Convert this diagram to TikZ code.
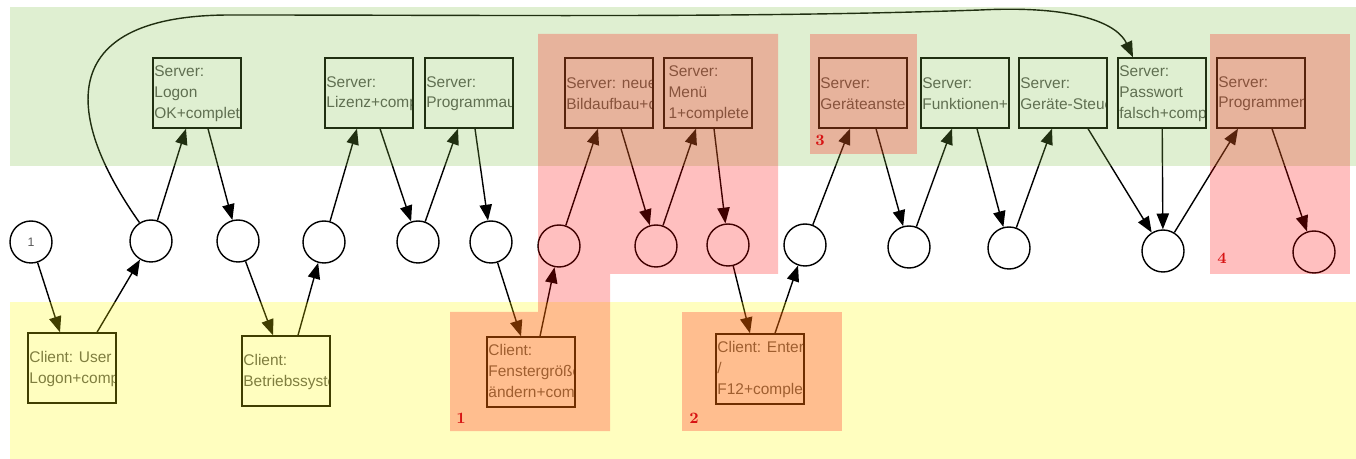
\documentclass[tikz,border=0pt]{standalone}
\usepackage{fontspec}
\newfontfamily\boxfont{Liberation Sans}
\usetikzlibrary{arrows.meta}
\definecolor{bandgreen}{RGB}{128,190,70}
\definecolor{bandyellow}{RGB}{255,250,0}
\definecolor{markred}{RGB}{255,0,0}
\definecolor{boxgray}{RGB}{85,85,85}
\definecolor{labelred}{RGB}{215,20,20}

\begin{document}
\begin{tikzpicture}[x=0.02cm,y=-0.02cm,
    box/.style={draw,line width=0.8pt,minimum width=1.76cm,minimum height=1.4cm,inner sep=0pt,
      path picture={\node[draw=none,anchor=north west,inner xsep=0.4pt,inner ysep=2.2pt,align=left,
        font=\boxfont\fontsize{8.8}{11.9}\selectfont,text=boxgray] at (path picture bounding box.north west) {#1};}},
    waypt/.style={draw,circle,line width=0.8pt,minimum size=0.84cm,inner sep=0pt,font=\boxfont\scriptsize,text=boxgray},
    flow/.style={-{Triangle[length=9pt,width=7pt]},line width=0.8pt},
    band/.style={fill opacity=0.25},
    num/.style={font=\bfseries\small,text=labelred}]
    \useasboundingbox (0,0) rectangle (1356,459);
    % server side
    \node[box={Server:\\Logon\\OK+complete}] (logon) at (197,93) {};
    \node[box={Server:\\Lizenz+comp}] (lizenz) at (369,93) {};
    \node[box={Server:\\Programmauf}] (progauf) at (469,93) {};
    \node[box={Server: neue\\Bildaufbau+co}] (bildauf) at (609,93) {};
    \node[box={Server:\\Menü\\1+complete}] (menue) at (708,93) {};
    \node[box={Server:\\Geräteanstel}] (geraet) at (863,93) {};
    \node[box={Server:\\Funktionen+co}] (funkt) at (965,93) {};
    \node[box={Server:\\Geräte-Steuer}] (steuer) at (1063,93) {};
    \node[box={Server:\\Passwort\\falsch+compl}] (passw) at (1162,93) {};
    \node[box={Server:\\Programmen}] (progende) at (1261,93) {};
    % client side
    \node[box={Client: User\\Logon+comp}] (userlogon) at (72,368) {};
    \node[box={Client:\\Betriebssyste}] (betrieb) at (286,371) {};
    \node[box={Client:\\Fenstergröße\\ändern+comp}] (fenster) at (531,372) {};
    \node[box={Client: Enter\\/\\F12+complet}] (enter) at (760,369) {};
    % states
    \node[waypt] (s1) at (31,242) {1};
    \node[waypt] (s2) at (151,241) {};
    \node[waypt] (s3) at (238,241) {};
    \node[waypt] (s4) at (324,242) {};
    \node[waypt] (s5) at (418,242) {};
    \node[waypt] (s6) at (491,242) {};
    \node[waypt] (s7) at (559,246) {};
    \node[waypt] (s8) at (656,246) {};
    \node[waypt] (s9) at (728,245) {};
    \node[waypt] (s10) at (805,245) {};
    \node[waypt] (s11) at (909,247) {};
    \node[waypt] (s12) at (1009,248) {};
    \node[waypt] (s13) at (1163,251) {};
    \node[waypt] (s14) at (1314,252) {};
    % arrows
    \draw[flow] (s1) -- ([xshift=-0.24cm]userlogon.north);
    \draw[flow] ([xshift=0.5cm]userlogon.north) -- (s2);
    \draw[flow] (s2) -- ([xshift=-0.22cm]logon.south);
    \draw[flow] ([xshift=0.22cm]logon.south) -- (s3);
    \draw[flow] (s3) -- ([xshift=-0.26cm]betrieb.north);
    \draw[flow] ([xshift=0.24cm]betrieb.north) -- (s4);
    \draw[flow] (s4) -- ([xshift=-0.24cm]lizenz.south);
    \draw[flow] ([xshift=0.22cm]lizenz.south) -- (s5);
    \draw[flow] (s5) -- ([xshift=-0.22cm]progauf.south);
    \draw[flow] ([xshift=0.12cm]progauf.south) -- (s6);
    \draw[flow] (s6) -- ([xshift=-0.2cm]fenster.north);
    \draw[flow] ([xshift=0.18cm]fenster.north) -- (s7);
    \draw[flow] (s7) -- ([xshift=-0.22cm]bildauf.south);
    \draw[flow] ([xshift=0.24cm]bildauf.south) -- (s8);
    \draw[flow] (s8) -- ([xshift=-0.24cm]menue.south);
    \draw[flow] ([xshift=0.12cm]menue.south) -- (s9);
    \draw[flow] (s9) -- ([xshift=-0.2cm]enter.north);
    \draw[flow] ([xshift=0.3cm]enter.north) -- (s10);
    \draw[flow] (s10) -- ([xshift=-0.26cm]geraet.south);
    \draw[flow] ([xshift=0.26cm]geraet.south) -- (s11);
    \draw[flow] (s11) -- ([xshift=-0.26cm]funkt.south);
    \draw[flow] ([xshift=0.24cm]funkt.south) -- (s12);
    \draw[flow] (s12) -- ([xshift=-0.22cm]steuer.south);
    \draw[flow] ([xshift=0.5cm]steuer.south) -- (s13);
    \draw[flow] (passw) -- (s13);
    \draw[flow] (s13) -- ([xshift=-0.46cm]progende.south);
    \draw[flow] ([xshift=0.22cm]progende.south) -- (s14);
    \draw[flow] (s2.122) .. controls (60,110) and (60,15) .. (230,15)
      .. controls (500,15) and (750,18) .. (980,10)
      .. controls (1080,5) and (1118,25) .. ([xshift=-0.58cm]passw.north);
    % swimlanes and highlights
    \fill[bandgreen,band] (10,7) rectangle (1356,166);
    \fill[bandyellow,band] (10,302) rectangle (1356,459);
    \fill[markred,band] (538,34) -- (778,34) -- (778,274) -- (610,274) -- (610,431)
      -- (450,431) -- (450,312) -- (538,312) -- cycle;
    \fill[markred,band] (682,312) rectangle (842,431);
    \fill[markred,band] (810,34) rectangle (917,154);
    \fill[markred,band] (1210,34) rectangle (1350,274);
    \node[num] (n1) at (461,418) {1};
    \node[num] (n2) at (694,418) {2};
    \node[num] (n3) at (820,140) {3};
    \node[num] (n4) at (1222,258) {4};
\end{tikzpicture}
\end{document}
